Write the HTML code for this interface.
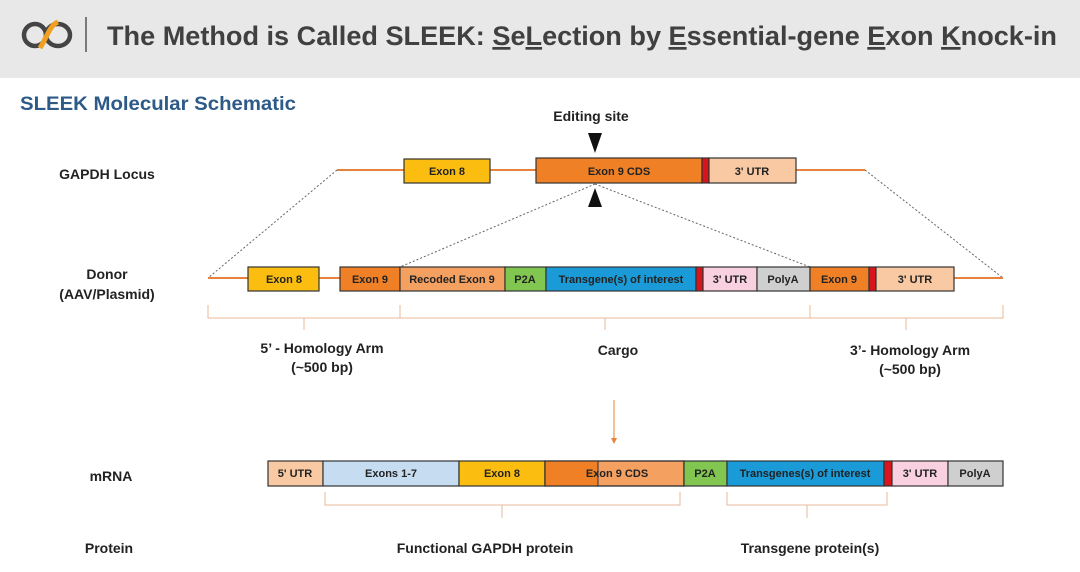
<!DOCTYPE html>
<html><head><meta charset="utf-8"><style>
html,body{margin:0;padding:0;background:#fff;}
svg{display:block;font-family:"Liberation Sans",Arial,sans-serif;}
.b{font-weight:bold;font-size:11px;fill:#222;text-anchor:middle;}
.l{font-weight:bold;font-size:14px;fill:#222;text-anchor:middle;}
</style></head><body>
<svg width="1080" height="572" viewBox="0 0 1080 572" xmlns="http://www.w3.org/2000/svg">
<rect x="0" y="0" width="1080" height="78" fill="#e8e8e8"/>
<!-- logo -->
<ellipse cx="35" cy="35" rx="11" ry="11" fill="none" stroke="#444" stroke-width="4.5"/>
<ellipse cx="58" cy="35" rx="12" ry="11" fill="none" stroke="#444" stroke-width="4.5"/>
<path d="M40 48 C48 35 50 25 58 22" stroke="#f0a020" stroke-width="5" fill="none"/>
<line x1="86" y1="17" x2="86" y2="52" stroke="#555" stroke-width="1.5"/>
<text x="107" y="45" font-size="27" font-weight="bold" fill="#404040" textLength="950" lengthAdjust="spacingAndGlyphs">The Method is Called SLEEK: <tspan text-decoration="underline">S</tspan>e<tspan text-decoration="underline">L</tspan>ection by <tspan text-decoration="underline">E</tspan>ssential-gene <tspan text-decoration="underline">E</tspan>xon <tspan text-decoration="underline">K</tspan>nock-in</text>
<text x="20" y="110" font-size="19" font-weight="bold" fill="#2e5a88" textLength="276" lengthAdjust="spacingAndGlyphs">SLEEK Molecular Schematic</text>

<text x="591" y="121" class="l">Editing site</text>
<polygon points="588,133 602,133 595,153" fill="#111"/>
<polygon points="595,188 602,207 588,207" fill="#111"/>

<text x="107" y="179" class="l">GAPDH Locus</text>
<line x1="337" y1="170" x2="865" y2="170" stroke="#e8823a" stroke-width="2"/>
<g stroke="#333" stroke-width="1.2">
<rect x="404" y="159" width="86" height="24" fill="#fbbe10"/>
<rect x="536" y="158" width="166" height="25" fill="#ef8025"/>
<rect x="702" y="158" width="7" height="25" fill="#d8141c"/>
<rect x="709" y="158" width="87" height="25" fill="#f8c9a2"/>
</g>
<text x="447" y="175" class="b">Exon 8</text>
<text x="619" y="175" class="b">Exon 9 CDS</text>
<text x="752" y="175" class="b">3' UTR</text>

<g stroke="#666" stroke-width="1" stroke-dasharray="2,2" fill="none">
<line x1="337" y1="170" x2="208" y2="278"/>
<line x1="865" y1="170" x2="1003" y2="278"/>
<line x1="595" y1="184" x2="400" y2="267"/>
<line x1="595" y1="184" x2="810" y2="267"/>
</g>

<text x="107" y="279" class="l">Donor</text>
<text x="107" y="299" class="l">(AAV/Plasmid)</text>
<line x1="208" y1="278" x2="1003" y2="278" stroke="#e8823a" stroke-width="2"/>
<g stroke="#333" stroke-width="1.2">
<rect x="248" y="267" width="71" height="24" fill="#fbbe10"/>
<rect x="340" y="267" width="60" height="24" fill="#ef8025"/>
<rect x="400" y="267" width="105" height="24" fill="#f4a060"/>
<rect x="505" y="267" width="41" height="24" fill="#80c650"/>
<rect x="546" y="267" width="150" height="24" fill="#1a9ad6"/>
<rect x="696" y="267" width="7" height="24" fill="#d8141c"/>
<rect x="703" y="267" width="54" height="24" fill="#f8d0e0"/>
<rect x="757" y="267" width="53" height="24" fill="#cfcfcf"/>
<rect x="810" y="267" width="59" height="24" fill="#ef8025"/>
<rect x="869" y="267" width="7" height="24" fill="#d8141c"/>
<rect x="876" y="267" width="78" height="24" fill="#f8c9a2"/>
</g>
<text x="284" y="283" class="b">Exon 8</text>
<text x="370" y="283" class="b">Exon 9</text>
<text x="452" y="283" class="b">Recoded Exon 9</text>
<text x="525" y="283" class="b">P2A</text>
<text x="621" y="283" class="b">Transgene(s) of interest</text>
<text x="730" y="283" class="b">3' UTR</text>
<text x="783" y="283" class="b">PolyA</text>
<text x="839" y="283" class="b">Exon 9</text>
<text x="915" y="283" class="b">3' UTR</text>

<g stroke="#e9b89a" stroke-width="1" fill="none">
<path d="M208 305 V318 H400 V305 M304 318 V330"/>
<path d="M400 305 V318 H810 V305 M605 318 V330"/>
<path d="M810 305 V318 H1003 V305 M906 318 V330"/>
<path d="M325 492 V505 H680 V492 M502 505 V518"/>
<path d="M727 492 V505 H887 V492 M807 505 V518"/>
</g>
<text x="322" y="353" class="l">5’ - Homology Arm</text>
<text x="322" y="372" class="l">(~500 bp)</text>
<text x="618" y="355" class="l">Cargo</text>
<text x="910" y="355" class="l">3’- Homology Arm</text>
<text x="910" y="374" class="l">(~500 bp)</text>

<line x1="614" y1="400" x2="614" y2="440" stroke="#e8823a" stroke-width="1"/>
<polygon points="611,438 617,438 614,444" fill="#e8823a"/>

<text x="111" y="481" class="l">mRNA</text>
<g stroke="#333" stroke-width="1.2">
<rect x="268" y="461" width="55" height="25" fill="#f8c9a2"/>
<rect x="323" y="461" width="136" height="25" fill="#c6dcf0"/>
<rect x="459" y="461" width="86" height="25" fill="#fbbe10"/>
<rect x="545" y="461" width="139" height="25" fill="#f4a060"/>
<rect x="545" y="461" width="53" height="25" fill="#ef8025" stroke="none"/>
<rect x="545" y="461" width="139" height="25" fill="none"/>
<rect x="684" y="461" width="43" height="25" fill="#80c650"/>
<rect x="727" y="461" width="157" height="25" fill="#1a9ad6"/>
<rect x="884" y="461" width="8" height="25" fill="#d8141c"/>
<rect x="892" y="461" width="56" height="25" fill="#f8d0e0"/>
<rect x="948" y="461" width="55" height="25" fill="#cfcfcf"/>
</g>
<line x1="598" y1="461" x2="598" y2="486" stroke="#333" stroke-width="1"/>
<text x="295" y="477" class="b">5' UTR</text>
<text x="391" y="477" class="b">Exons 1-7</text>
<text x="502" y="477" class="b">Exon 8</text>
<text x="617" y="477" class="b">Exon 9 CDS</text>
<text x="705" y="477" class="b">P2A</text>
<text x="805" y="477" class="b">Transgenes(s) of interest</text>
<text x="920" y="477" class="b">3' UTR</text>
<text x="975" y="477" class="b">PolyA</text>

<text x="109" y="553" class="l">Protein</text>
<text x="485" y="553" class="l">Functional GAPDH protein</text>
<text x="810" y="553" class="l">Transgene protein(s)</text>
</svg>
</body></html>
